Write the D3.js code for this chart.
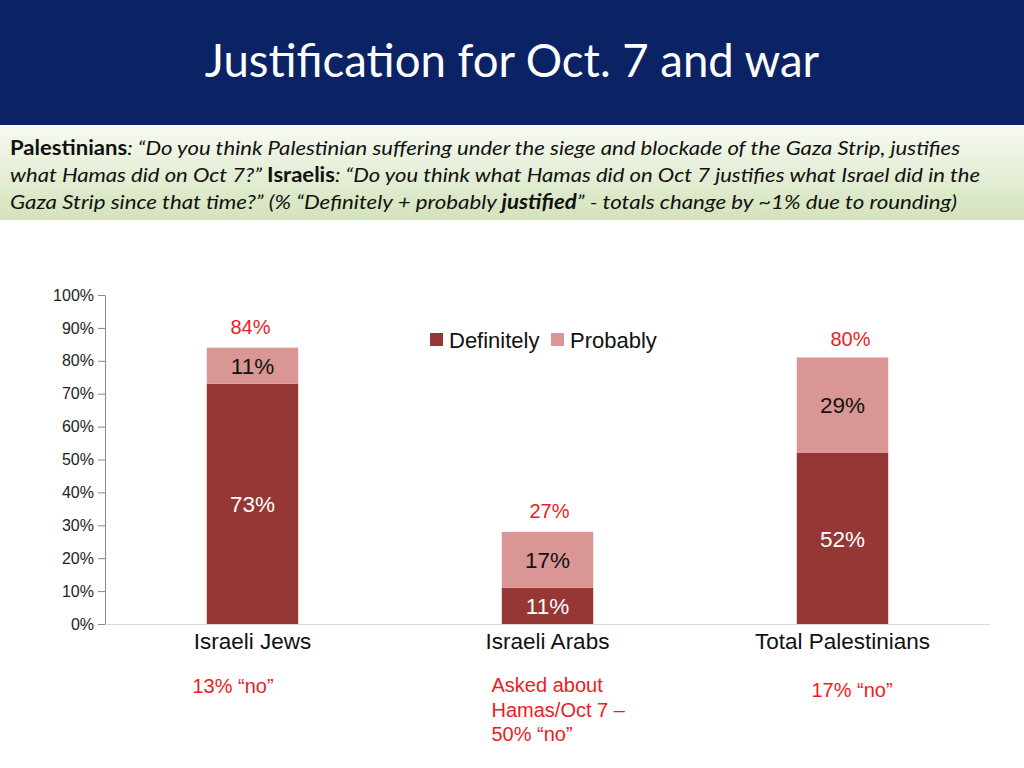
<!DOCTYPE html>
<html>
<head>
<meta charset="utf-8">
<script src="https://cdn.jsdelivr.net/npm/d3@7"></script>
<style>
  body { margin: 0; background: #fff; }
  svg { display: block; }
</style>
</head>
<body>
<div id="chart"></div>
<script>
// Data
const categories = ["Israeli Jews", "Israeli Arabs", "Total Palestinians"];
const series = ["Definitely", "Probably"];
const definitely = [73, 11, 52];
const probably = [11, 17, 29];
const totalLabels = ["84%", "27%", "80%"];
const notes = [["13% “no”"], ["Asked about", "Hamas/Oct 7 –", "50% “no”"], ["17% “no”"]];
const yTicks = [0, 10, 20, 30, 40, 50, 60, 70, 80, 90, 100];

const W = 1024, H = 768;
const colors = { Definitely: "#953735", Probably: "#d99694" };
const red = "#ec1c24";
const sans = "'Liberation Sans', Arial, sans-serif";

const svg = d3.select("#chart").append("svg")
    .attr("width", W).attr("height", H);

// Title band
svg.append("rect").attr("x", 0).attr("y", 0).attr("width", W).attr("height", 125).attr("fill", "#0b2265");
svg.append("text")
    .attr("x", W / 2).attr("y", 77)
    .attr("text-anchor", "middle")
    .attr("font-family", "Lato, 'Open Sans', sans-serif")
    .attr("font-size", 45.5)
    .attr("fill", "#fff")
    .text("Justification for Oct. 7 and war");

// Subtitle box with green gradient
const defs = svg.append("defs");
const grad = defs.append("linearGradient").attr("id", "subGrad")
    .attr("x1", 0).attr("y1", 0).attr("x2", 0).attr("y2", 1);
grad.append("stop").attr("offset", "0%").attr("stop-color", "#f7faf2");
grad.append("stop").attr("offset", "100%").attr("stop-color", "#d3e3bb");
svg.append("rect").attr("x", 0).attr("y", 125).attr("width", W).attr("height", 95).attr("fill", "url(#subGrad)");

const subLines = [
    [["Palestinians", "bold", "normal"], [": “Do you think Palestinian suffering under the siege and blockade of the Gaza Strip, justifies", "normal", "italic"]],
    [["what Hamas did on Oct 7?” ", "normal", "italic"], ["Israelis", "bold", "normal"], [": “Do you think what Hamas did on Oct 7 justifies what Israel did in the", "normal", "italic"]],
    [["Gaza Strip since that time?” (% “Definitely + probably ", "normal", "italic"], ["justified", "bold", "italic"], ["” - totals change by ~1% due to rounding)", "normal", "italic"]]
];
const subWidths = [950, 970, 947];
subLines.forEach((parts, i) => {
    const t = svg.append("text")
        .attr("x", 10).attr("y", 155 + i * 27)
        .attr("font-family", "Lato, 'Open Sans', sans-serif")
        .attr("font-size", 20)
        .attr("fill", "#111")
        .attr("textLength", subWidths[i])
        .attr("lengthAdjust", "spacingAndGlyphs");
    parts.forEach(p => {
        t.append("tspan")
            .attr("font-weight", p[1])
            .attr("font-style", p[2])
            .text(p[0]);
    });
});

// Chart area
const plot = { left: 105, right: 990, top: 295, bottom: 624 };

const x = d3.scaleBand()
    .domain(categories)
    .range([plot.left, plot.right])
    .paddingInner(0.69)
    .paddingOuter(0.345);

const y = d3.scaleLinear()
    .domain([0, 100])
    .range([plot.bottom, plot.top]);

const rows = categories.map((c, i) => ({ cat: c, Definitely: definitely[i], Probably: probably[i] }));
const stacked = d3.stack().keys(series)(rows);

// Y axis
const yAxis = svg.append("g")
    .attr("transform", `translate(${plot.left},0)`)
    .call(d3.axisLeft(y).tickValues(yTicks).tickFormat(d => d + "%").tickSize(7).tickSizeOuter(0));
yAxis.select(".domain").attr("stroke", "#888");
yAxis.selectAll(".tick line").attr("stroke", "#888");
yAxis.selectAll(".tick text")
    .attr("font-family", sans)
    .attr("font-size", 16)
    .attr("fill", "#222")
    .attr("x", -11);

// X axis baseline
const xAxis = svg.append("g")
    .attr("transform", `translate(0,${plot.bottom})`)
    .call(d3.axisBottom(x).tickSize(0).tickPadding(9));
xAxis.select(".domain").attr("stroke", "#d9d9d9");
xAxis.selectAll(".tick text")
    .attr("font-family", sans)
    .attr("font-size", 22.5)
    .attr("fill", "#111");

// Bars
const layer = svg.selectAll(".layer")
    .data(stacked)
    .enter().append("g")
    .attr("class", "layer")
    .attr("fill", d => colors[d.key]);

layer.selectAll("rect")
    .data(d => d)
    .enter().append("rect")
    .attr("x", d => x(d.data.cat))
    .attr("y", d => y(d[1]))
    .attr("width", x.bandwidth())
    .attr("height", d => y(d[0]) - y(d[1]));

// Segment labels
stacked.forEach(s => {
    svg.selectAll(".lbl-" + s.key)
        .data(s)
        .enter().append("text")
        .attr("x", d => x(d.data.cat) + x.bandwidth() / 2)
        .attr("y", d => (y(d[0]) + y(d[1])) / 2)
        .attr("dy", "0.36em")
        .attr("text-anchor", "middle")
        .attr("font-family", sans)
        .attr("font-size", 22.5)
        .attr("fill", s.key === "Definitely" ? "#fff" : "#111")
        .text(d => (d[1] - d[0]) + "%");
});

// Total labels above bars
svg.selectAll(".total")
    .data(rows)
    .enter().append("text")
    .attr("x", (d, i) => x(d.cat) + x.bandwidth() / 2 + (i === 2 ? 8 : i === 1 ? 2 : -2))
    .attr("y", d => y(d.Definitely + d.Probably) - (d.cat === "Total Palestinians" ? 12 : 14))
    .attr("text-anchor", "middle")
    .attr("font-family", sans)
    .attr("font-size", 20)
    .attr("fill", red)
    .text((d, i) => totalLabels[i]);

// Notes below category labels
const noteOffsets = [-60, -56, -31];
const noteTops = [693, 692, 697];
notes.forEach((lines, i) => {
    const t = svg.append("text")
        .attr("font-family", sans)
        .attr("font-size", 20)
        .attr("fill", red);
    lines.forEach((l, j) => {
        t.append("tspan")
            .attr("x", x(categories[i]) + x.bandwidth() / 2 + noteOffsets[i])
            .attr("y", noteTops[i] + j * 24.5)
            .text(l);
    });
});

// Legend
const legend = svg.append("g").attr("transform", "translate(430,333)");
const legendX = [0, 121];
series.forEach((s, i) => {
    const g = legend.append("g").attr("transform", `translate(${legendX[i]},0)`);
    g.append("rect").attr("width", 13).attr("height", 13).attr("fill", colors[s]);
    g.append("text")
        .attr("x", 19).attr("y", 15)
        .attr("font-family", sans)
        .attr("font-size", 22)
        .attr("fill", "#111")
        .text(s);
});
</script>
</body>
</html>
